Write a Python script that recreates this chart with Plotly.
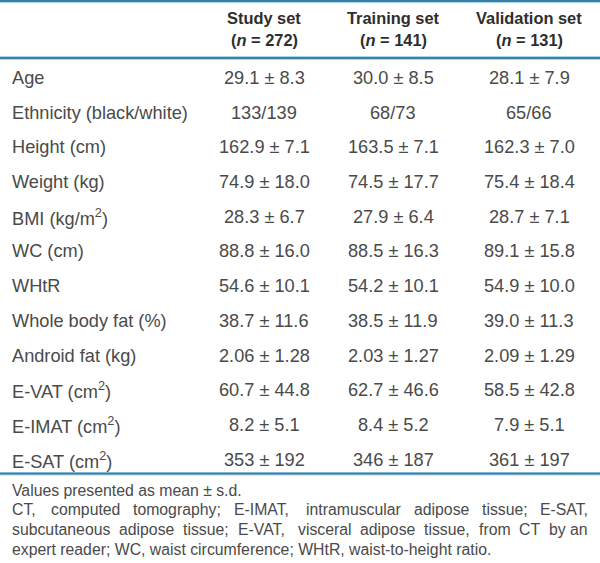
import plotly.graph_objects as go

W, H = 600, 563

col_headers = ["Study set", "Training set", "Validation set"]
col_n = ["272", "141", "131"]
row_labels = [
    "Age", "Ethnicity (black/white)", "Height (cm)", "Weight (kg)",
    "BMI (kg/m<sup>2</sup>)", "WC (cm)", "WHtR", "Whole body fat (%)",
    "Android fat (kg)", "E-VAT (cm<sup>2</sup>)", "E-IMAT (cm<sup>2</sup>)",
    "E-SAT (cm<sup>2</sup>)",
]
study_set = ["29.1 ± 8.3", "133/139", "162.9 ± 7.1", "74.9 ± 18.0", "28.3 ± 6.7",
             "88.8 ± 16.0", "54.6 ± 10.1", "38.7 ± 11.6", "2.06 ± 1.28",
             "60.7 ± 44.8", "8.2 ± 5.1", "353 ± 192"]
training_set = ["30.0 ± 8.5", "68/73", "163.5 ± 7.1", "74.5 ± 17.7", "27.9 ± 6.4",
                "88.5 ± 16.3", "54.2 ± 10.1", "38.5 ± 11.9", "2.03 ± 1.27",
                "62.7 ± 46.6", "8.4 ± 5.2", "346 ± 187"]
validation_set = ["28.1 ± 7.9", "65/66", "162.3 ± 7.0", "75.4 ± 18.4", "28.7 ± 7.1",
                  "89.1 ± 15.8", "54.9 ± 10.0", "39.0 ± 11.3", "2.09 ± 1.29",
                  "58.5 ± 42.8", "7.9 ± 5.1", "361 ± 197"]
footnotes = [
    "Values presented as mean ± s.d.",
    "CT, computed tomography; E-IMAT, intramuscular adipose tissue; E-SAT,",
    "subcutaneous adipose tissue; E-VAT, visceral adipose tissue, from CT by an",
    "expert reader; WC, waist circumference; WHtR, waist-to-height ratio.",
]
footnote_justified = [False, True, True, False]

FONT = "Liberation Sans, Arial, sans-serif"
TXT = "#4a4a4a"
HEAD_TXT = "#2e2e2e"
DARK = "#3b7fa7"
LIGHT = "#a6d6ec"

BODY_SIZE = 18.2
HEAD_SIZE = 16.4
FOOT_SIZE = 15.8

# layout constants (pixels)
label_x = 10
right_x = 590
col_x = [264, 393, 529]
row0_y, row_dy = 78, 34.7
head_y = [18, 40]
foot_y0, foot_dy = 490, 19.7

# approximate Arial/Liberation Sans advance widths (1/1000 em)
CW = {" ": 278, ",": 278, "-": 333, ".": 278, ";": 278, "(": 333, ")": 333, "/": 278,
      "A": 667, "C": 722, "E": 667, "H": 722, "I": 278, "M": 833, "R": 722, "S": 667,
      "T": 611, "V": 667, "W": 944,
      "a": 556, "b": 556, "c": 500, "d": 556, "e": 556, "f": 278, "g": 556, "h": 556,
      "i": 222, "k": 500, "l": 222, "m": 833, "n": 556, "o": 556, "p": 556, "r": 333,
      "s": 500, "t": 278, "u": 556, "v": 500, "w": 722, "x": 500, "y": 500, "z": 500}


def text_w(s, size):
    return sum(CW.get(ch, 556) for ch in s) * size / 1000.0


def py(p):
    return 1 - p / H


def px(p):
    return p / W


fig = go.Figure()
ann = []
for i, (h, n) in enumerate(zip(col_headers, col_n)):
    ann.append(dict(x=px(col_x[i]), y=py(head_y[0]), text=f"<b>{h}</b>",
                    xanchor="center", yanchor="middle",
                    font=dict(size=HEAD_SIZE, color=HEAD_TXT)))
    ann.append(dict(x=px(col_x[i]), y=py(head_y[1]), text=f"<b>(<i>n</i> = {n})</b>",
                    xanchor="center", yanchor="middle",
                    font=dict(size=HEAD_SIZE, color=HEAD_TXT)))

for r, lab in enumerate(row_labels):
    y = py(row0_y + r * row_dy)
    ann.append(dict(x=px(label_x), y=y, text=lab, xanchor="left", yanchor="middle"))
    for c, col in enumerate([study_set, training_set, validation_set]):
        ann.append(dict(x=px(col_x[c]), y=y, text=col[r], xanchor="center", yanchor="middle"))

for k, (line, just) in enumerate(zip(footnotes, footnote_justified)):
    y = py(foot_y0 + k * foot_dy)
    if not just:
        ann.append(dict(x=px(label_x), y=y, text=line, xanchor="left", yanchor="middle",
                        font=dict(size=FOOT_SIZE)))
        continue
    words = line.split(" ")
    widths = [text_w(w, FOOT_SIZE) for w in words]
    gap = (right_x - label_x - sum(widths)) / (len(words) - 1)
    xcur = label_x
    for j, (w, wd) in enumerate(zip(words, widths)):
        if j == len(words) - 1:
            ann.append(dict(x=px(right_x), y=y, text=w, xanchor="right", yanchor="middle",
                            font=dict(size=FOOT_SIZE)))
        else:
            ann.append(dict(x=px(xcur), y=y, text=w, xanchor="left", yanchor="middle",
                            font=dict(size=FOOT_SIZE)))
        xcur += wd + gap

for a in ann:
    a.update(xref="paper", yref="paper", showarrow=False)
    f = dict(family=FONT, size=BODY_SIZE, color=TXT)
    f.update(a.get("font", {}))
    a["font"] = f

shapes = []


def hline(p, color, width):
    shapes.append(dict(type="line", xref="paper", yref="paper", x0=0, x1=1,
                       y0=py(p), y1=py(p), line=dict(color=color, width=width)))


hline(1.5, LIGHT, 3)
hline(1.0, DARK, 2)
hline(58, LIGHT, 4)
hline(58, DARK, 2)
hline(474, LIGHT, 3)
hline(473.5, DARK, 2)

fig.update_layout(
    width=W, height=H, margin=dict(l=0, r=0, t=0, b=0),
    paper_bgcolor="white", plot_bgcolor="white",
    xaxis=dict(visible=False), yaxis=dict(visible=False),
    annotations=ann, shapes=shapes, showlegend=False,
)
fig.write_html("out.html", config={"displayModeBar": False},
               post_script="document.body.style.margin='0';")
